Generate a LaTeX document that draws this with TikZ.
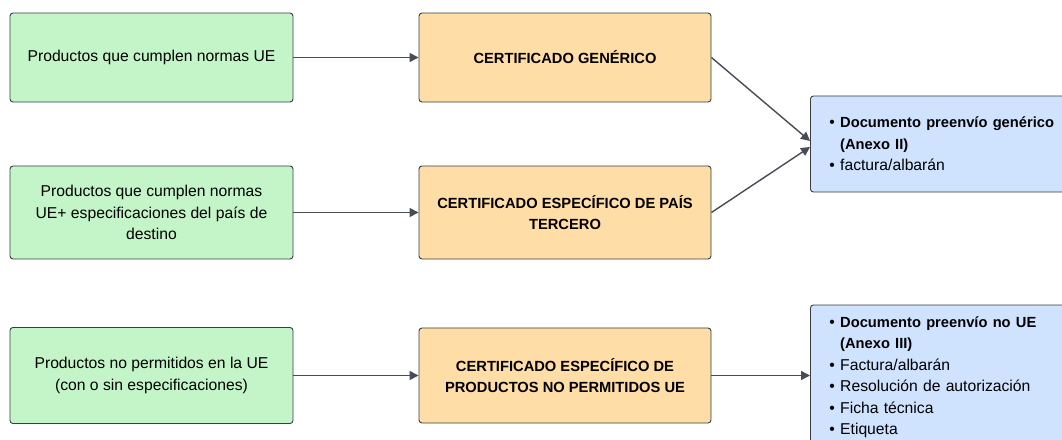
\documentclass[tikz,border=0pt]{standalone}
\usepackage{fontspec}
\setmainfont{Liberation Sans}
\usetikzlibrary{arrows.meta,calc}
\definecolor{gfill}{HTML}{C3F5C8}
\definecolor{ofill}{HTML}{FFDDA6}
\definecolor{bfill}{HTML}{CFE3FF}
\definecolor{edge}{HTML}{3A3D42}
\definecolor{arr}{HTML}{474C55}
\newcommand{\bfsz}{\fontsize{14.7}{21.5}\selectfont\bfseries}
\tikzset{
  box/.style={draw=edge, line width=0.9pt, rounded corners=3pt, align=center, inner sep=0pt,
    font=\fontsize{15.7}{21.5}\selectfont},
  gbox/.style={box, fill=gfill, minimum width=283pt},
  obox/.style={box, fill=ofill, minimum width=292pt, font=\bfsz},
  bbox/.style={box, fill=bfill, align=left, text width=256pt, inner xsep=19pt, inner ysep=0pt},
  conn/.style={draw=arr, line width=1.4pt, -{Triangle[length=9pt,width=9pt]}}
}
\begin{document}
\begin{tikzpicture}[x=1pt,y=-1pt]
\useasboundingbox[fill=white] (0,0) rectangle (1062,439);
\node[gbox, minimum height=89pt] (g1) at (151.5,57.5) {Productos que cumplen normas UE};
\node[gbox, minimum height=93pt] (g2) at (151.5,212.5) {Productos que cumplen normas\\UE+ especificaciones del país de\\destino};
\node[gbox, minimum height=96pt] (g3) at (151.5,375.5) {Productos no permitidos en la UE\\(con o sin especificaciones)};
\node[obox, minimum height=89pt] (o1) at (565,57.5) {CERTIFICADO GENÉRICO};
\node[obox, minimum height=93pt] (o2) at (565,212.5) {CERTIFICADO ESPECÍFICO DE PAÍS\\TERCERO};
\node[obox, minimum height=95pt] (o3) at (565,375.5) {CERTIFICADO ESPECÍFICO DE\\PRODUCTOS NO PERMITIDOS UE};
\node[bbox, anchor=west, minimum height=96pt] (b1) at (810,144) {%
  • {\bfsz Documento preenvío genérico}\\
  \hphantom{• }{\bfsz (Anexo II)}\\
  • factura/albarán};
\node[bbox, anchor=west, minimum height=144pt] (b2) at (810,377) {%
  • {\bfsz Documento preenvío no UE}\\
  \hphantom{• }{\bfsz (Anexo III)}\\
  • Factura/albarán\\
  • Resolución de autorización\\
  • Ficha técnica\\
  • Etiqueta};
\draw[conn] (g1.east) -- (o1.west);
\draw[conn] (g2.east) -- (o2.west);
\draw[conn] (g3.east) -- (o3.west);
\draw[conn] (o1.east) -- ($(b1.west)+(0,-3)$);
\draw[conn] (o2.east) -- ($(b1.west)+(0,3)$);
\draw[conn] (o3.east) -- (o3.east -| b2.west);
\end{tikzpicture}
\end{document}
